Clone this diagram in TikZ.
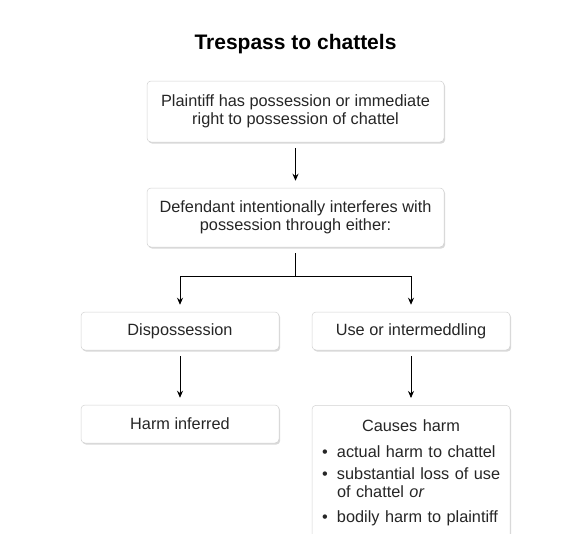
\documentclass[tikz,border=0pt]{standalone}
\usepackage{fontspec}
\setmainfont{Liberation Sans}
\usetikzlibrary{arrows.meta,shadows}

\begin{document}
\begin{tikzpicture}[x=1pt, y=-1pt, >={Stealth[length=7pt,width=6pt]}, line width=0.8pt,
    box/.style={draw=gray!35, line width=0.5pt, fill=white, rounded corners=4pt,
      drop shadow={opacity=0.3, shadow xshift=1.2pt, shadow yshift=-1.6pt},
      align=center, inner sep=0pt, text=black!85,
      font=\fontsize{16.3}{17.5}\selectfont},
    wide/.style={box, minimum width=297pt},
    narrow/.style={box, minimum width=198pt, minimum height=38pt},
    link/.style={->, shorten <=6pt, shorten >=7pt}]
  \useasboundingbox (0,0) rectangle (565,533);
  \clip (0,0) rectangle (565,533);

  \node[font=\fontsize{21}{24}\selectfont\bfseries] (title) at (295.5,44.5) {Trespass to chattels};

  \node[wide, minimum height=61pt] (plaintiff) at (295.5,111.5) {Plaintiff has possession or immediate\\right to possession of chattel};
  \node[wide, minimum height=59pt] (defendant) at (295.5,217.5) {Defendant intentionally interferes with\\possession through either:};
  \node[narrow] (disp) at (180,331) {Dispossession};
  \node[narrow] (use) at (411,331) {Use or intermeddling};
  \node[narrow] (inferred) at (180,424) {Harm inferred};
  \node[box, anchor=north, text width=186pt, align=left, inner xsep=6pt, inner ysep=14pt] (causes) at (411,405) {%
    \makebox[186pt]{Causes harm}\\[8.5pt]
    \hspace*{4pt}\makebox[15pt][l]{\textbullet}actual harm to chattel\\[5pt]
    \hspace*{4pt}\makebox[15pt][l]{\textbullet}substantial loss of use\\
    \hspace*{19pt}of chattel \textit{or}\\[8pt]
    \hspace*{4pt}\makebox[15pt][l]{\textbullet}bodily harm to plaintiff};

  \coordinate (split) at (295.5,276);

  \draw[link] (plaintiff) -- (defendant);
  \draw[shorten <=6pt] (defendant) -- (split);
  \draw[->, shorten >=7pt] (split) -| (disp);
  \draw[->, shorten >=7pt] (split) -| (use);
  \draw[link] (disp) -- (inferred);
  \draw[link] (use) -- (causes);
\end{tikzpicture}
\end{document}
